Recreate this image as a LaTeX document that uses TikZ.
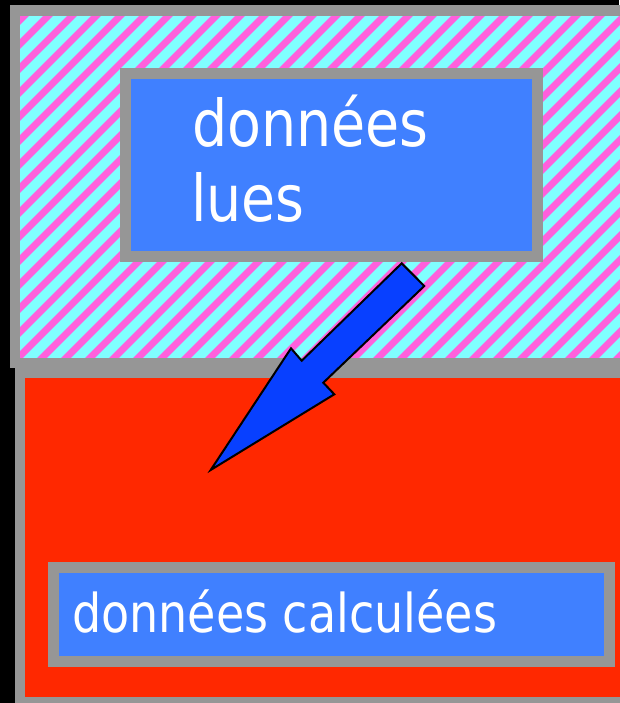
\documentclass[tikz,border=0pt]{standalone}
\usepackage{fontspec}
\newfontfamily\lbl[FakeStretch=0.86]{DejaVu Sans}
\definecolor{hcyan}{HTML}{80FFFF}
\definecolor{hmag}{HTML}{FF60DC}
\definecolor{bgray}{HTML}{969696}
\definecolor{bblue}{HTML}{4080FF}
\definecolor{bred}{HTML}{FF2800}
\definecolor{abluec}{HTML}{0840FF}
\begin{document}
\begin{tikzpicture}[x=1pt,y=-1pt,
  frame/.style={draw=bgray,line width=10.5pt},
  box/.style={draw=bgray,line width=10.5pt,fill=bblue,rectangle,inner sep=0pt,outer sep=0pt,anchor=north west},
  lbltext/.style={text=white,inner sep=0pt,outer sep=0pt,anchor=base west}]
\useasboundingbox (0,0) rectangle (619,703);
\fill[black] (0,0) rectangle (619,703);
% top hatched region
\fill[hcyan] (15,10.5) rectangle (640,363);
\begin{scope}
\clip (15,10.5) rectangle (640,363);
\foreach \k in {0,...,45} \draw[hmag,line width=7pt] ({\k*24+16-375},375) -- ++(390,-390);
\end{scope}
\draw[frame] (640,10.5) -- (15,10.5) -- (15,363) -- (640,363);
% bottom red region
\draw[frame,fill=bred] (640,373) -- (20,373) -- (20,702) -- (640,702);
% boxes
\node[box,minimum width=412pt,minimum height=183pt] (lues) at (125.5,73.5) {};
\node[box,minimum width=556pt,minimum height=94pt] (calc) at (53.5,567.5) {};
% texts
\node[lbltext,font=\lbl\fontsize{64.5}{75}\selectfont] (t1) at (192,147) {données};
\node[lbltext,font=\lbl\fontsize{64.5}{75}\selectfont] (t2) at (191,222) {lues};
\node[lbltext,font=\lbl\fontsize{53.5}{64}\selectfont] (t3) at (72,632) {données calculées};
% block arrow
\draw[fill=abluec,draw=black,line width=2pt,line join=miter]
  (401.7,263.3) -- (424.3,286) -- (323.3,382.7) -- (334.3,394.3) -- (210.7,470)
  -- (291,348.3) -- (301.7,360.7) -- cycle;
\end{tikzpicture}
\end{document}
